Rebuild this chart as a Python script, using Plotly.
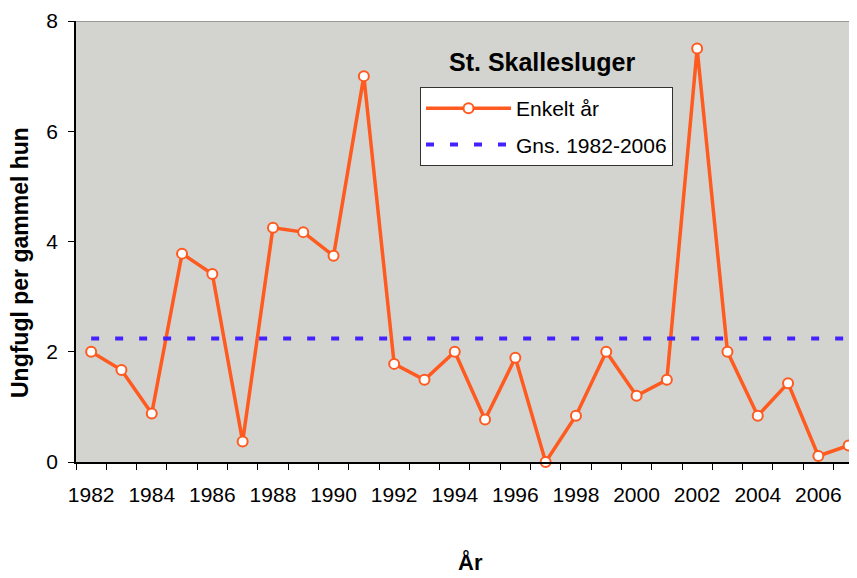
import plotly.graph_objects as go

years = list(range(1982, 2008))
enkelt_aar = [2.00, 1.67, 0.88, 3.78, 3.41, 0.37, 4.25, 4.17, 3.74, 7.00,
              1.78, 1.49, 2.00, 0.77, 1.89, 0.00, 0.84, 2.00, 1.20, 1.49,
              7.50, 2.00, 0.84, 1.43, 0.11, 0.30]
gns_value = 2.24
gns = [gns_value] * len(years)

xtick_vals = list(range(1982, 2007, 2))
xtick_text = [str(v) for v in xtick_vals]
category_edges = [y - 0.5 for y in years] + [years[-1] + 0.5]
ytick_vals = [0, 2, 4, 6, 8]

ORANGE = "#FF5A1F"
BLUE = "#4422FF"
FONT = "Liberation Sans, Arial, sans-serif"

fig = go.Figure()
fig.add_trace(go.Scatter(
    x=years, y=enkelt_aar, name="Enkelt år", mode="lines+markers",
    line=dict(color=ORANGE, width=3.5),
    marker=dict(symbol="circle", size=10, color="white",
                line=dict(color=ORANGE, width=2)),
    cliponaxis=False, legendgroup="a",
))
fig.add_trace(go.Scatter(
    x=years, y=gns, name="Gns. 1982-2006", mode="lines",
    line=dict(color=BLUE, width=4, dash="8px,16px"),
    legendgroup="b",
))

# page body has an 8px margin, so the figure is 8px smaller and offset
fig.update_layout(
    width=849, height=570,
    margin=dict(l=68, r=0, t=13, b=116, autoexpand=False),
    paper_bgcolor="white", plot_bgcolor="#D3D4CF",
    font=dict(family=FONT, size=21, color="black"),
    showlegend=True,
    legend=dict(x=(420 - 76) / 781, y=(462 - 87) / 441, xanchor="left", yanchor="top",
                bgcolor="white", bordercolor="#333333", borderwidth=1,
                font=dict(size=21, family=FONT), itemwidth=85,
                tracegroupgap=6),
    annotations=[
        dict(text="<b>St. Skallesluger</b>", x=(542 - 76) / 781, y=(462 - 62) / 441,
             xref="paper", yref="paper", showarrow=False,
             font=dict(size=25, family=FONT), xanchor="center", yanchor="middle"),
        dict(text="<b>Ungfugl per gammel hun</b>", x=(20 - 76) / 781, y=(462 - 263) / 441,
             xref="paper", yref="paper", showarrow=False, textangle=-90,
             font=dict(size=23, family=FONT), xanchor="center", yanchor="middle"),
        dict(text="<b>År</b>", x=(470 - 76) / 781, y=-(562 - 462) / 441,
             xref="paper", yref="paper", showarrow=False,
             font=dict(size=22, family=FONT), xanchor="center", yanchor="middle"),
    ],
    shapes=[dict(type="line", xref="paper", yref="y", x0=0, x1=1, y0=8, y1=8,
                 line=dict(color="#999999", width=2))],
)

fig.update_xaxes(
    range=[1981.5, 1981.5 + 781 / 30.3], automargin=False,
    tickvals=xtick_vals, ticktext=xtick_text,
    ticks="outside", ticklen=13, tickcolor="rgba(0,0,0,0)",
    showgrid=False, zeroline=False,
    showline=True, linecolor="black", linewidth=1.5,
    tickfont=dict(size=21),
    minor=dict(tickvals=category_edges, ticks="outside", ticklen=6,
               tickcolor="black", tickwidth=1, showgrid=False),
)
fig.update_yaxes(
    range=[0, 8], tickvals=ytick_vals, automargin=False,
    ticks="outside", ticklen=6, tickcolor="black",
    showgrid=False, zeroline=False,
    showline=True, linecolor="black", linewidth=1.5,
    tickfont=dict(size=21), ticklabelstandoff=6,
)

fig.write_html("out.html")
